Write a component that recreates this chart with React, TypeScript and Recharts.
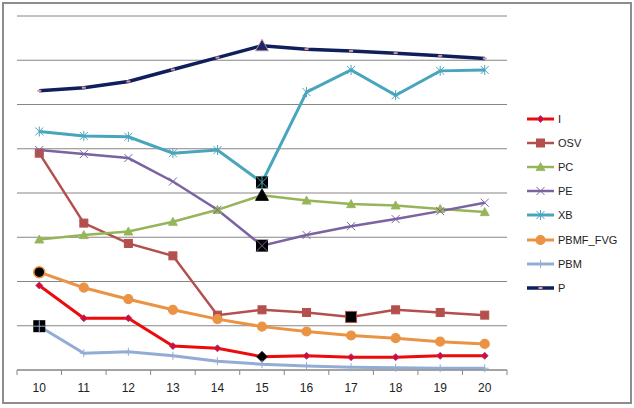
import { LineChart, Line, XAxis, YAxis, CartesianGrid } from 'recharts';

// categories on the x axis
const categories = ['10', '11', '12', '13', '14', '15', '16', '17', '18', '19', '20'];

// series values (one gridline = 1 unit)
const valuesI = [1.91, 1.17, 1.17, 0.54, 0.49, 0.3, 0.32, 0.29, 0.29, 0.32, 0.32];
const valuesOSV = [4.9, 3.32, 2.86, 2.58, 1.24, 1.36, 1.3, 1.2, 1.36, 1.3, 1.24];
const valuesPC = [2.95, 3.05, 3.13, 3.35, 3.62, 3.95, 3.83, 3.75, 3.72, 3.64, 3.57];
const valuesPE = [4.97, 4.88, 4.79, 4.26, 3.62, 2.81, 3.05, 3.25, 3.41, 3.59, 3.78];
const valuesXB = [5.39, 5.29, 5.27, 4.9, 4.97, 4.24, 6.28, 6.78, 6.21, 6.76, 6.78];
const valuesPBMF = [2.21, 1.86, 1.6, 1.36, 1.15, 0.98, 0.87, 0.78, 0.72, 0.64, 0.59];
const valuesPBM = [0.99, 0.38, 0.41, 0.32, 0.2, 0.13, 0.09, 0.06, 0.05, 0.04, 0.04];
const valuesP = [6.31, 6.38, 6.52, 6.79, 7.06, 7.33, 7.25, 7.21, 7.16, 7.1, 7.04];

const yTicks = [0, 1, 2, 3, 4, 5, 6, 7, 8];

type Shape = 'diamond' | 'square' | 'triangle' | 'x' | 'star' | 'circle' | 'plus' | 'dash';

interface SeriesDef {
  key: string;
  values: number[];
  color: string;
  width: number;
  shape: Shape;
  markerFill: string;
  markerStroke: string;
  highlight: number; // index of the emphasised point
}

const SERIES: SeriesDef[] = [
  { key: 'I', values: valuesI, color: '#ee0a0a', width: 3, shape: 'diamond', markerFill: '#e2062a', markerStroke: '#8b3a8f', highlight: 5 },
  { key: 'OSV', values: valuesOSV, color: '#b3504d', width: 2.5, shape: 'square', markerFill: '#b3504d', markerStroke: '#b3504d', highlight: 7 },
  { key: 'PC', values: valuesPC, color: '#96b559', width: 2.5, shape: 'triangle', markerFill: '#96b559', markerStroke: '#96b559', highlight: 5 },
  { key: 'PE', values: valuesPE, color: '#7b62a0', width: 2.5, shape: 'x', markerFill: '#7b62a0', markerStroke: '#7b62a0', highlight: 5 },
  { key: 'XB', values: valuesXB, color: '#48a5bd', width: 3, shape: 'star', markerFill: '#48a5bd', markerStroke: '#48a5bd', highlight: 5 },
  { key: 'PBMF_FVG', values: valuesPBMF, color: '#ea9344', width: 3, shape: 'circle', markerFill: '#ea9344', markerStroke: '#ea9344', highlight: 0 },
  { key: 'PBM', values: valuesPBM, color: '#93acd4', width: 3, shape: 'plus', markerFill: '#93acd4', markerStroke: '#93acd4', highlight: 0 },
  { key: 'P', values: valuesP, color: '#0e1f5b', width: 3.5, shape: 'dash', markerFill: '#d99aa5', markerStroke: '#d99aa5', highlight: 5 },
];

const data = categories.map((c, i) => {
  const row: Record<string, string | number> = { cat: c };
  SERIES.forEach((s) => {
    row[s.key] = s.values[i];
  });
  return row;
});

const FONT = '"Liberation Sans", Arial, sans-serif';
const STEP = 490 / categories.length;

function Marker({ shape, cx, cy, fill, stroke, big }: { shape: Shape; cx: number; cy: number; fill: string; stroke: string; big?: boolean }) {
  const s = big ? 6 : 4;
  switch (shape) {
    case 'diamond': {
      const d = big ? 5.5 : 3.5;
      return <polygon points={`${cx},${cy - d} ${cx + d},${cy} ${cx},${cy + d} ${cx - d},${cy}`} fill={fill} stroke={stroke} strokeWidth={0.8} />;
    }
    case 'square':
      return <rect x={cx - s} y={cy - s} width={2 * s} height={2 * s} fill={fill} stroke={stroke} strokeWidth={1} />;
    case 'triangle': {
      const t = big ? 6.5 : 4.5;
      return <polygon points={`${cx},${cy - t} ${cx + t},${cy + t * 0.8} ${cx - t},${cy + t * 0.8}`} fill={fill} stroke={stroke} strokeWidth={0.8} />;
    }
    case 'x':
      return (
        <g stroke={stroke} strokeWidth={1}>
          <line x1={cx - s} y1={cy - s} x2={cx + s} y2={cy + s} />
          <line x1={cx - s} y1={cy + s} x2={cx + s} y2={cy - s} />
        </g>
      );
    case 'star':
      return (
        <g stroke={stroke} strokeWidth={1}>
          <line x1={cx - s} y1={cy - s} x2={cx + s} y2={cy + s} />
          <line x1={cx - s} y1={cy + s} x2={cx + s} y2={cy - s} />
          <line x1={cx} y1={cy - s - 1} x2={cx} y2={cy + s + 1} />
        </g>
      );
    case 'circle':
      return <circle cx={cx} cy={cy} r={big ? 5.5 : 4.5} fill={fill} stroke={stroke} strokeWidth={1.2} />;
    case 'plus':
      return (
        <g stroke={stroke} strokeWidth={1}>
          <line x1={cx - s} y1={cy} x2={cx + s} y2={cy} />
          <line x1={cx} y1={cy - s} x2={cx} y2={cy + s} />
        </g>
      );
    case 'dash':
      return <rect x={cx - 2} y={cy - 1} width={4} height={2} fill={fill} />;
  }
}

function HighlightMarker({ s, cx, cy }: { s: SeriesDef; cx: number; cy: number }) {
  switch (s.shape) {
    case 'diamond':
      return <Marker shape="diamond" cx={cx} cy={cy} fill="#000" stroke="#333" big />;
    case 'square':
      return <rect x={cx - 5.5} y={cy - 5.5} width={11} height={11} fill="#000" stroke={s.color} strokeWidth={1} />;
    case 'triangle':
      return <Marker shape="triangle" cx={cx} cy={cy} fill="#000" stroke="#000" big />;
    case 'x':
    case 'star':
    case 'plus':
      return (
        <g>
          <rect x={cx - 6} y={cy - 6} width={12} height={12} fill="#000" />
          <Marker shape={s.shape} cx={cx} cy={cy} fill={s.color} stroke={s.color} big />
        </g>
      );
    case 'circle':
      return <circle cx={cx} cy={cy} r={5.5} fill="#000" stroke={s.color} strokeWidth={1.5} />;
    case 'dash':
      return <Marker shape="triangle" cx={cx} cy={cy} fill="#1a2a66" stroke="#d99aa5" big />;
  }
}

function makeDot(s: SeriesDef) {
  return (props: any) => {
    const { cx, cy, index } = props;
    if (cx == null || cy == null) return <g key={`${s.key}-${index}`} />;
    return (
      <g key={`${s.key}-${index}`}>
        {index === s.highlight ? (
          <HighlightMarker s={s} cx={cx} cy={cy} />
        ) : (
          <Marker shape={s.shape} cx={cx} cy={cy} fill={s.markerFill} stroke={s.markerStroke} />
        )}
      </g>
    );
  };
}

function CategoryTick(props: any) {
  const { x, y, payload, index } = props;
  const last = index === categories.length - 1;
  return (
    <g>
      <line x1={x - STEP / 2} y1={y} x2={x - STEP / 2} y2={y + 5} stroke="#868686" />
      {last && <line x1={x + STEP / 2} y1={y} x2={x + STEP / 2} y2={y + 5} stroke="#868686" />}
      <text x={x} y={y + 22} textAnchor="middle" fontFamily={FONT} fontSize={12} fill="#222">
        {payload.value}
      </text>
    </g>
  );
}

function LegendBox() {
  return (
    <div style={{ fontFamily: FONT, fontSize: 11, color: '#222' }}>
      {SERIES.map((s) => (
        <div key={s.key} style={{ height: 24.2, display: 'flex', alignItems: 'center' }}>
          <svg width={31} height={14} style={{ flex: 'none' }}>
            <line x1={0} y1={7} x2={27} y2={7} stroke={s.color} strokeWidth={s.width} />
            <Marker shape={s.shape} cx={13.5} cy={7} fill={s.markerFill} stroke={s.markerStroke} />
          </svg>
          <span>{s.key}</span>
        </div>
      ))}
    </div>
  );
}

export default function App() {
  return (
    <div style={{ position: 'absolute', left: 0, top: 0, width: 634, height: 408, background: '#fff' }}>
      <LineChart width={634} height={408} data={data} margin={{ top: 16, right: 127, bottom: 8, left: 17 }}>
        <CartesianGrid horizontal vertical={false} stroke="#868686" />
        <XAxis
          dataKey="cat"
          height={30}
          padding={{ left: STEP / 2, right: STEP / 2 }}
          axisLine={{ stroke: '#868686' }}
          tickLine={false}
          tickSize={0}
          tickMargin={0}
          interval={0}
          tick={<CategoryTick />}
        />
        <YAxis hide domain={[0, 8]} ticks={yTicks} />
        {SERIES.map((s) => (
          <Line
            key={s.key}
            dataKey={s.key}
            stroke={s.color}
            strokeWidth={s.width}
            dot={makeDot(s)}
            activeDot={false}
            isAnimationActive={false}
          />
        ))}
      </LineChart>
      <div style={{ position: 'absolute', left: 527, top: 106.5, width: 100 }}>
        <LegendBox />
      </div>
      <div
        style={{
          position: 'absolute',
          left: 2,
          top: 2,
          width: 626,
          height: 398,
          border: '2px solid #8d8d8d',
          pointerEvents: 'none',
        }}
      />
    </div>
  );
}
